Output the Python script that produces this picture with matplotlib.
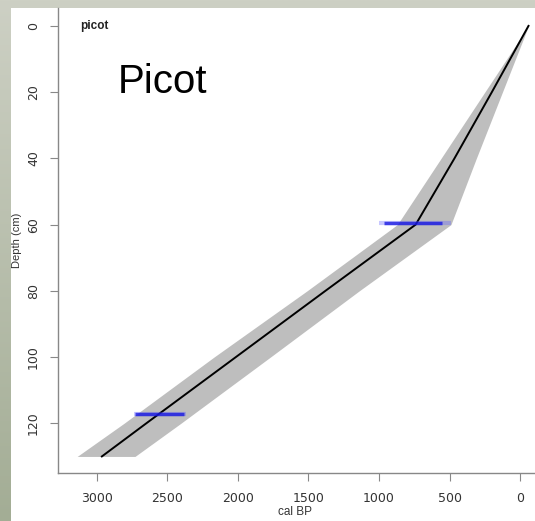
import matplotlib
matplotlib.use("Agg")
import matplotlib.pyplot as plt
import numpy as np
from matplotlib.patches import Rectangle
from matplotlib.colors import LinearSegmentedColormap

# age-depth model (depth in cm, ages in cal BP)
depth = [0, 20, 40, 60, 80, 100, 120, 130]
age_mean = [-60, 200, 465, 740, 1380, 2015, 2650, 2965]
age_young = [-60, 125, 310, 490, 1140, 1770, 2405, 2730]
age_old = [-60, 250, 560, 870, 1510, 2170, 2808, 3140]

# dated levels (calibrated ranges drawn in blue)
date_depth = [59.5, 117.3]
date_from = [965, 2730]
date_to = [555, 2380]
date_tail_from = [1000, 2740]
date_tail_to = [490, 2370]

yticks = [0, 20, 40, 60, 80, 100, 120]
xticks = [3000, 2500, 2000, 1500, 1000, 500, 0]

fig = plt.figure(figsize=(5.35, 5.21), dpi=100)

# slide background with a soft gradient
bg = fig.add_axes([0, 0, 1, 1], zorder=-2)
grad = np.linspace(0, 1, 256).reshape(-1, 1)
cmap = LinearSegmentedColormap.from_list("slide", ["#cdd0c4", "#a3ad95"])
bg.imshow(grad, aspect="auto", cmap=cmap, extent=[0, 1, 0, 1])
bg.set_axis_off()
fig.patches.append(Rectangle((11 / 535, 0), 1, 1 - 8 / 521, transform=fig.transFigure,
                             facecolor="white", edgecolor="none", zorder=-1))

ax = fig.add_axes([58 / 535, 48 / 521, 1 - 58 / 535, 465 / 521])
ax.set_facecolor("none")
ax.fill_betweenx(depth, age_young, age_old, color="#bebebe", linewidth=0)
ax.plot(age_mean, depth, color="black", linewidth=1.4)
for d, a0, a1, t0, t1 in zip(date_depth, date_from, date_to, date_tail_from, date_tail_to):
    ax.plot([t0, t1], [d, d], color="#6060ff", alpha=0.35, linewidth=3, solid_capstyle="butt")
    ax.plot([a0, a1], [d, d], color="#1010e0", alpha=0.75, linewidth=2.5, solid_capstyle="butt")

ax.set_xlim(3276, -106)
ax.set_ylim(135, -5.4)
ax.set_yticks(yticks)
ax.set_xticks(xticks)
ax.set_yticklabels([str(v) for v in yticks], rotation=90, va="center")
ax.tick_params(direction="out", length=6, width=0.8, color="#888888",
               labelsize=9, labelcolor="#333333")
ax.tick_params(axis="y", pad=7)
ax.tick_params(axis="x", pad=8)
for s in ["top", "right"]:
    ax.spines[s].set_visible(False)
for s in ["left", "bottom"]:
    ax.spines[s].set_color("#888888")
    ax.spines[s].set_linewidth(1.0)

fig.text(17 / 535, 1 - 240 / 521, "Depth (cm)", rotation=90, ha="center", va="center",
         fontsize=8, color="#333333", family="Liberation Sans")
fig.text(295 / 535, 1 - 512 / 521, "cal BP", ha="center", va="center",
         fontsize=8.5, color="#333333", family="Liberation Sans")
fig.text(80 / 535, 1 - 26 / 521, "picot", ha="left", va="center", fontsize=8.5,
         fontweight="bold", color="#222222", family="Liberation Sans")
fig.text(118 / 535, 1 - 82 / 521, "Picot", ha="left", va="center", fontsize=29,
         color="black", family="Liberation Sans")

fig.savefig("out.png", dpi=100)
